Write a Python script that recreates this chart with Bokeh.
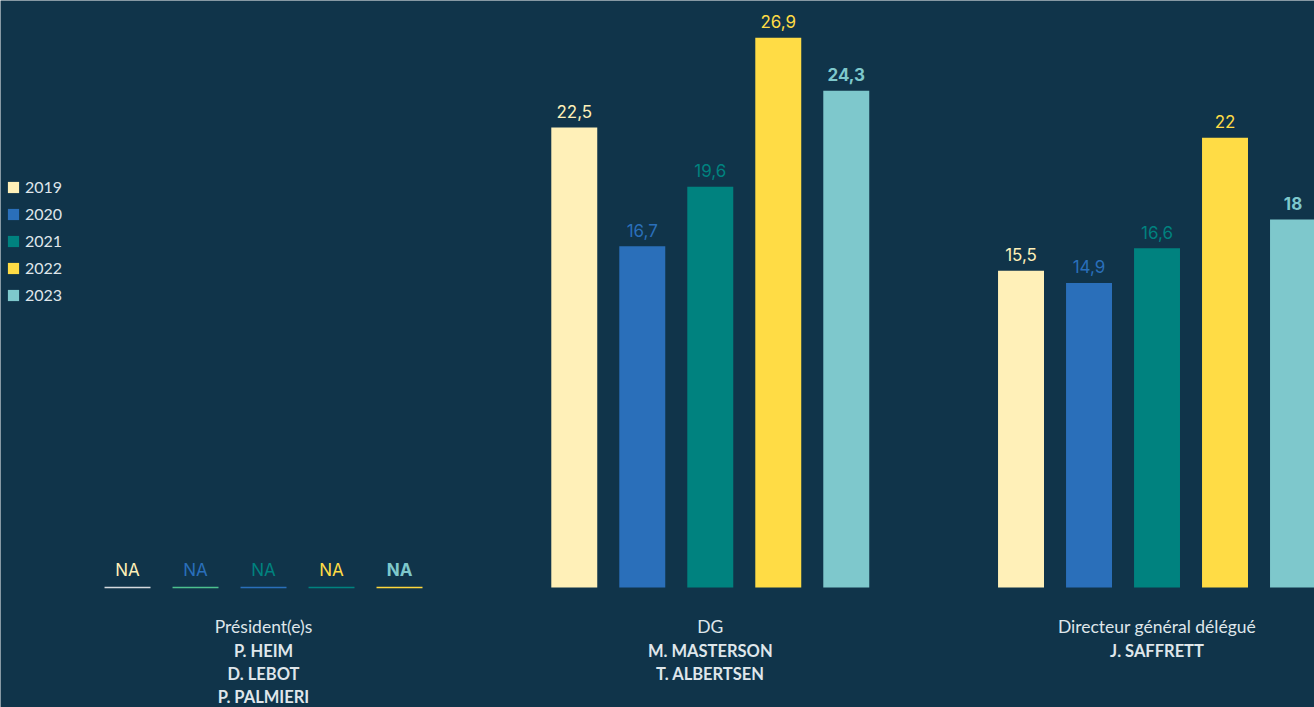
from bokeh.plotting import figure
from bokeh.models import Range1d, ColumnDataSource, Legend, LegendItem
from bokeh.core.properties import value
from bokeh.embed import file_html
from bokeh.resources import INLINE

# ---- data ----
groups = ["Président(e)s", "DG", "Directeur général délégué"]
people = [["P. HEIM", "D. LEBOT", "P. PALMIERI"],
          ["M. MASTERSON", "T. ALBERTSEN"],
          ["J. SAFFRETT"]]
years = ["2019", "2020", "2021", "2022", "2023"]
values = [
    [None, None, None, None, None],
    [22.5, 16.7, 19.6, 26.9, 24.3],
    [15.5, 14.9, 16.6, 22.0, 18.0],
]
labels = [
    ["NA", "NA", "NA", "NA", "NA"],
    ["22,5", "16,7", "19,6", "26,9", "24,3"],
    ["15,5", "14,9", "16,6", "22", "18"],
]

# ---- styles ----
BG = "#10344a"
TXT = "#dfe6ea"
year_colors = ["#fff0b8", "#2a6fba", "#00827f", "#ffdc45", "#7ec8cc"]
na_line_colors = ["#d5d9de", "#4cc08e", "#2a6fba", "#00827f", "#ffd83c"]
GROUP_STEP = 6.57
BAR_W = 0.676

p = figure(width=1314, height=707, output_backend="svg", toolbar_location=None,
           x_range=Range1d(-1.868, 17.456), y_range=Range1d(-5.871, 28.718),
           min_border=0, background_fill_color=BG, border_fill_color=BG,
           outline_line_color=None)
p.axis.visible = False
p.grid.visible = False

legend_items = []
for i, yr in enumerate(years):
    xs, tops, labs, na_x = [], [], [], []
    for g in range(len(groups)):
        x = g * GROUP_STEP + i
        v = values[g][i]
        if v is None:
            na_x.append(x)
        else:
            xs.append(x)
            tops.append(v)
            labs.append(labels[g][i])
    src = ColumnDataSource(dict(x=xs, top=tops, lab=labs))
    r = p.vbar(x="x", top="top", bottom=0, width=BAR_W, source=src,
               fill_color=year_colors[i], line_color=None)
    legend_items.append(LegendItem(label=yr, renderers=[r]))
    p.text(x="x", y="top", text="lab", source=src, text_align="center",
           text_baseline="alphabetic", y_offset=-16, text_color=year_colors[i],
           text_font=value("Inter"), text_font_size="17px",
           text_font_style="bold" if i == 4 else "normal")
    if na_x:
        nsrc = ColumnDataSource(dict(x=na_x, y=[0.0] * len(na_x),
                                     x0=[x - BAR_W / 2 for x in na_x],
                                     x1=[x + BAR_W / 2 for x in na_x],
                                     lab=["NA"] * len(na_x)))
        p.text(x="x", y="y", text="lab", source=nsrc, text_align="center",
               text_baseline="alphabetic", y_offset=-17, text_color=year_colors[i],
               text_font=value("Inter"), text_font_size="17px",
               text_font_style="bold" if i == 4 else "normal")
        p.segment(x0="x0", x1="x1", y0="y", y1="y", source=nsrc,
                  line_color=na_line_colors[i], line_width=1.5)

# category labels
cx = [g * GROUP_STEP + 2 for g in range(len(groups))]
p.text(x=cx, y=[0.0] * len(cx), text=groups, text_align="center",
       text_baseline="middle", y_offset=39, text_color=TXT,
       text_font=value("Lato"), text_font_size="17.5px")
px, py, pt, po = [], [], [], []
for g, names in enumerate(people):
    for k, n in enumerate(names):
        px.append(cx[g]); py.append(0.0); pt.append(n); po.append(64 + 23 * k)
p.text(x=px, y=py, text=pt, y_offset=po, text_align="center",
       text_baseline="middle", text_color=TXT, text_font=value("Lato"),
       text_font_size="16.5px", text_font_style="bold")

legend = Legend(items=legend_items, location=(6, 403), orientation="vertical",
                glyph_width=14, glyph_height=14, label_height=14, spacing=8,
                padding=0, margin=0, label_standoff=5,
                background_fill_alpha=0, border_line_color=None,
                label_text_color=TXT, label_text_font="Lato",
                label_text_font_size="16px")
p.add_layout(legend, "center")

open("out.html", "w").write(file_html(p, INLINE))
